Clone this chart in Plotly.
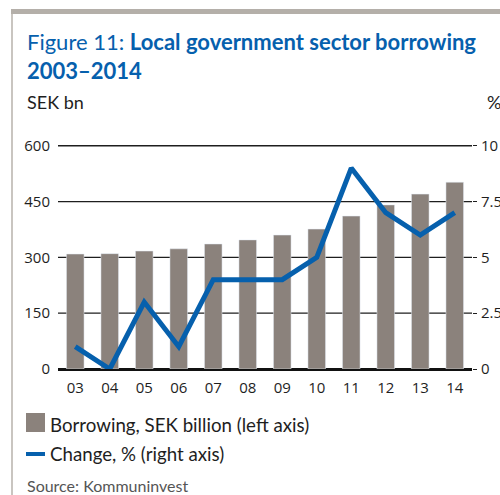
import plotly.graph_objects as go

years = ["03", "04", "05", "06", "07", "08", "09", "10", "11", "12", "13", "14"]
borrowing = [309, 310, 317, 323, 336, 347, 360, 376, 411, 441, 470, 502]
change_pct = [1, 0, 3, 1, 4, 4, 4, 5, 9, 7, 6, 7]
left_ticks = [0, 150, 300, 450, 600]
right_ticks = [0, 2.5, 5, 7.5, 10]
right_tick_text = ["0", "2.5", "5", "7.5", "10"]

BAR = "#8b827c"
BLUE = "#0660ad"
INK = "#1e1e1e"
FONT = "Lato"
TICK_FONT = dict(family="Open Sans", size=15, color=INK)

W, H = 500, 495
L, R, T, B = 58, 28, 145, 126
pw, ph = W - L - R, H - T - B

# a little headroom so the top gridline sits inside the plot
LEFT_MAX = 602
RIGHT_MAX = 10 * LEFT_MAX / 600


def px(x):
    return (x - L) / pw


def py(y):
    return (H - B - y) / ph


xs = list(range(len(years)))

fig = go.Figure()
fig.add_trace(go.Bar(x=xs, y=borrowing, marker_color=BAR, width=0.51,
                     name="Borrowing, SEK billion (left axis)"))
fig.add_trace(go.Scatter(x=xs, y=change_pct, yaxis="y2", mode="lines",
                         line=dict(color=BLUE, width=5), name="Change, % (right axis)"))

fig.update_layout(
    width=W, height=H,
    margin=dict(l=L, r=R, t=T, b=B, autoexpand=False),
    paper_bgcolor="white", plot_bgcolor="white",
    showlegend=False,
    font=dict(family=FONT, color=INK, size=16),
    xaxis=dict(range=[-0.5, 11.5], tickvals=xs, ticktext=years, showgrid=False,
               zeroline=False, showline=False, ticks="outside", ticklen=5,
               tickcolor="rgba(0,0,0,0)", tickfont=TICK_FONT, automargin=False),
    yaxis=dict(range=[0, LEFT_MAX], tickvals=left_ticks, showgrid=False,
               zeroline=True, zerolinecolor="#111111", zerolinewidth=3,
               ticks="outside", ticklen=4, tickcolor="rgba(0,0,0,0)",
               ticklabelstandoff=0, tickfont=TICK_FONT, automargin=False),
    yaxis2=dict(range=[0, RIGHT_MAX], tickvals=right_ticks, ticktext=right_tick_text,
                overlaying="y", side="right", showgrid=False, zeroline=False,
                ticks="outside", ticklen=4, tickwidth=1.3, tickcolor=INK,
                ticklabelstandoff=1, tickfont=TICK_FONT, automargin=False),
)

# horizontal gridlines at the left-axis ticks, behind the bars
for v in left_ticks[1:]:
    fig.add_shape(type="line", xref="paper", yref="y", x0=0, x1=1, y0=v, y1=v,
                  line=dict(color=INK, width=1.3), layer="below")

# frame: grey top bar and left rule
fig.add_shape(type="rect", xref="paper", yref="paper", x0=px(11), x1=px(500),
              y0=py(14), y1=py(9), fillcolor="#b4afa9", line_width=0, layer="above")
fig.add_shape(type="line", xref="paper", yref="paper", x0=px(12), x1=px(12),
              y0=py(14), y1=py(495), line=dict(color="#c9c5c0", width=2))

# title
fig.add_annotation(xref="paper", yref="paper", x=px(25), y=py(56), xanchor="left",
                   yanchor="middle", showarrow=False, align="left",
                   text="Figure 11: <b>Local government sector borrowing</b><br><b>2003–2014</b>",
                   font=dict(size=22, color=BLUE, family=FONT))
fig.add_annotation(xref="paper", yref="paper", x=px(25), y=py(102), xanchor="left",
                   yanchor="middle", showarrow=False, text="SEK bn",
                   font=dict(size=18, color=INK))
fig.add_annotation(xref="paper", yref="paper", x=px(485), y=py(102), xanchor="left",
                   yanchor="middle", showarrow=False, text="%",
                   font=dict(size=18, color=INK))

# legend
fig.add_shape(type="rect", xref="paper", yref="paper", x0=px(26), x1=px(45),
              y0=py(432), y1=py(413), fillcolor=BAR, line_width=0)
fig.add_annotation(xref="paper", yref="paper", x=px(48), y=py(425), xanchor="left",
                   yanchor="middle", showarrow=False,
                   text="Borrowing, SEK billion (left axis)",
                   font=dict(size=18.7, color=INK))
fig.add_shape(type="line", xref="paper", yref="paper", x0=px(26), x1=px(45),
              y0=py(454), y1=py(454), line=dict(color=BLUE, width=4))
fig.add_annotation(xref="paper", yref="paper", x=px(48), y=py(454), xanchor="left",
                   yanchor="middle", showarrow=False, text="Change, % (right axis)",
                   font=dict(size=18.7, color=INK))
fig.add_annotation(xref="paper", yref="paper", x=px(25), y=py(485), xanchor="left",
                   yanchor="middle", showarrow=False, text="Source: Kommuninvest",
                   font=dict(size=16, color="#555555"))

fig.write_html("out.html")
